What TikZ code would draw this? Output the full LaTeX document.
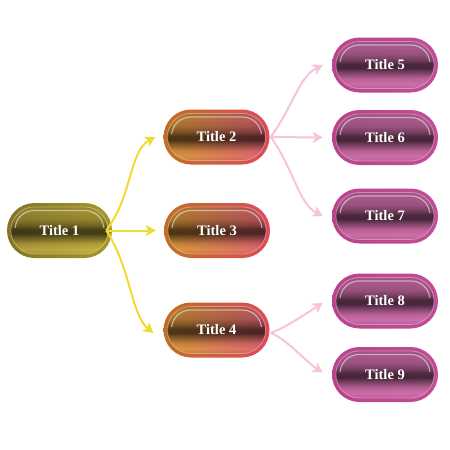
\documentclass[tikz,border=0pt]{standalone}
\usepackage{fontspec}
\setmainfont{Liberation Serif}
\usetikzlibrary{shapes.misc,arrows.meta}
\definecolor{goA}{HTML}{857420}
\definecolor{goB}{HTML}{A8962A}
\definecolor{giA}{HTML}{BBA63E}
\definecolor{giB}{HTML}{D0BB40}
\definecolor{ooA}{HTML}{C26E22}
\definecolor{ooB}{HTML}{DF4A58}
\definecolor{oiA}{HTML}{E4A23C}
\definecolor{oiB}{HTML}{EC6A7A}
\definecolor{moA}{HTML}{B9448C}
\definecolor{moB}{HTML}{C24C95}
\definecolor{miA}{HTML}{D570AE}
\definecolor{miB}{HTML}{D874B2}
\definecolor{yel}{HTML}{F0DC30}
\definecolor{pnk}{HTML}{F5C4DC}
\pgfdeclareverticalshading{bandsh}{100bp}{%
  color(0bp)=(white!85!black); color(25bp)=(white!85!black); color(30bp)=(white!96!black);
  color(36bp)=(white!85!black); color(42bp)=(white!58!black); color(47bp)=(white!33!black);
  color(51bp)=(white!35!black); color(56bp)=(white!55!black); color(62bp)=(white!72!black);
  color(69bp)=(white!78!black); color(75bp)=(white!74!black); color(100bp)=(white!74!black)}
\newcommand\pillinner[2]{%
  \path (path picture bounding box.south west) coordinate (pSW)
        (path picture bounding box.north east) coordinate (pNE);
  \shade[shading angle=90, left color=#1, right color=#2, rounded corners=23.5pt]
    ([shift={(4pt,4pt)}]pSW) rectangle ([shift={(-4pt,-4pt)}]pNE);
  \shade[shading=bandsh, shading angle=0, blend mode=multiply, rounded corners=23.5pt]
    ([shift={(4pt,4pt)}]pSW) rectangle ([shift={(-4pt,-4pt)}]pNE);
  \begin{scope}
    \clip ([shift={(0pt,-24pt)}]pNE) rectangle (pNE-|pSW);
    \draw[white, opacity=0.5, line width=1.2pt, line join=round, rounded corners=19pt]
      ([shift={(8pt,8pt)}]pSW) rectangle ([shift={(-8pt,-7.5pt)}]pNE);
  \end{scope}
  \draw[white, opacity=0.35, line width=0.8pt, line join=round, rounded corners=23pt]
    ([shift={(4pt,4pt)}]pSW) rectangle ([shift={(-4pt,-4pt)}]pNE);
}
\tikzset{
  pill/.style={rounded rectangle, minimum width=106pt, minimum height=55pt,
    inner sep=0pt, text=white, font=\bfseries\fontsize{14.5}{16}\selectfont},
  pillG/.style={pill, left color=goA, right color=goB, path picture={\pillinner{giA}{giB}}},
  pillO/.style={pill, left color=ooA, right color=ooB, path picture={\pillinner{oiA}{oiB}}},
  pillM/.style={pill, left color=moA, right color=moB, path picture={\pillinner{miA}{miB}}},
  yarr/.style={draw=yel, line width=2pt, -{Stealth[length=10pt,width=11pt,inset=2.5pt]}},
  parr/.style={draw=pnk, line width=2pt, -{Stealth[length=10pt,width=11pt,inset=2.5pt]}},
}
\begin{document}
\begin{tikzpicture}[x=1pt,y=-1pt]
\useasboundingbox (0,0) rectangle (450,450);
\node[pillG, minimum width=105pt] (t1) at (59.5,230.5) {Title 1};
\node[pillO] (t2) at (216.5,137) {Title 2};
\node[pillO] (t3) at (217,230.5) {Title 3};
\node[pillO] (t4) at (216.5,330) {Title 4};
\node[pillM] (t5) at (385,65) {Title 5};
\node[pillM] (t6) at (385,137.5) {Title 6};
\node[pillM] (t7) at (385,216) {Title 7};
\node[pillM] (t8) at (385,301) {Title 8};
\node[pillM] (t9) at (385,374.5) {Title 9};
\coordinate (r1) at ([xshift=-6pt]t1.east);
\coordinate (r2) at ([xshift=1pt]t2.east);
\coordinate (r4) at ([xshift=1pt,yshift=-3pt]t4.east);
\draw[yarr] (r1) .. controls +(26,-34) and +(-26,14) .. ([xshift=-8pt]t2.west);
\draw[yarr] (r1) -- ([xshift=-8pt]t3.west);
\draw[yarr] (r1) .. controls +(24,36) and +(-22,-18) .. ([xshift=-10pt,yshift=-3pt]t4.west);
\draw[parr] (r2) .. controls +(22,-30) and +(-24,12) .. ([xshift=-9pt]t5.west);
\draw[parr] (r2) -- ([xshift=-9pt]t6.west);
\draw[parr] (r2) .. controls +(22,30) and +(-24,-12) .. ([xshift=-9pt]t7.west);
\draw[parr] (r4) .. controls +(16,-6) and +(-16,10) .. ([xshift=-9pt,yshift=-2pt]t8.west);
\draw[parr] (r4) .. controls +(16,6) and +(-16,-10) .. ([xshift=-9pt,yshift=2pt]t9.west);
\end{tikzpicture}
\end{document}
